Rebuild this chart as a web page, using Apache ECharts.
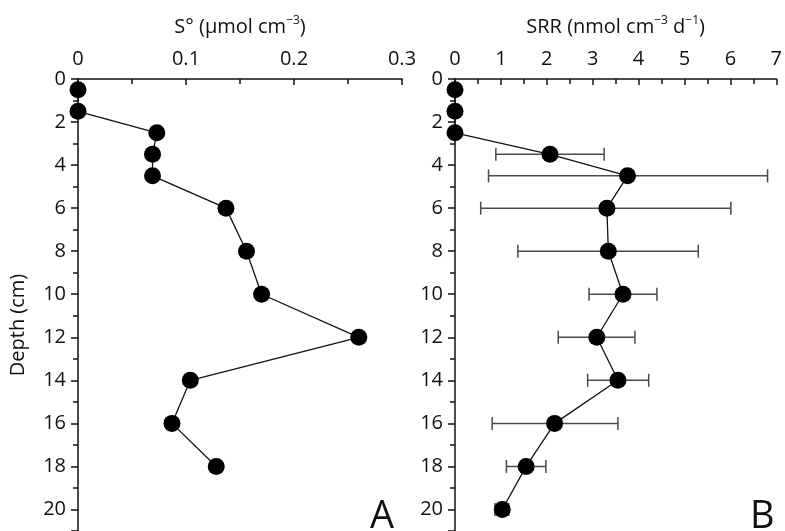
<!DOCTYPE html>
<html>
<head>
<meta charset="utf-8">
<script src="https://cdn.jsdelivr.net/npm/echarts@6/dist/echarts.min.js"></script>
<style>
html,body{margin:0;padding:0;background:#fff;}
#main{width:785px;height:531px;}
</style>
</head>
<body>
<div id="main"></div>
<script>
// panel A: elemental sulfur
var depthA = [0.5, 1.5, 2.5, 3.5, 4.5, 6, 8, 10, 12, 14, 16, 18];
var sulfur = [0, 0, 0.073, 0.069, 0.069, 0.137, 0.156, 0.170, 0.260, 0.104, 0.087, 0.128];

// panel B: sulfate reduction rate
var depthB = [0.5, 1.5, 2.5, 3.5, 4.5, 6, 8, 10, 12, 14, 16, 18, 20];
var srr = [0, 0, 0, 2.07, 3.76, 3.31, 3.34, 3.66, 3.09, 3.55, 2.17, 1.55, 1.03];
var srrLow = [0, 0, 0, 0.89, 0.73, 0.56, 1.37, 2.92, 2.25, 2.89, 0.81, 1.12, 0.87];
var srrHigh = [0, 0, 0, 3.25, 6.81, 6.01, 5.30, 4.40, 3.92, 4.22, 3.55, 1.98, 1.17];

var FONT = '"Open Sans", "Noto Sans", sans-serif';

function pairs(xs, ys){
	var out = [];
	for(var i=0;i<xs.length;i++){
		out.push([xs[i], ys[i]]);
	}
	return out;
}

var errData = [];
for(var i=0;i<depthB.length;i++){
	if(srrHigh[i] > srrLow[i]){
		errData.push([srrLow[i], srrHigh[i], depthB[i]]);
	}
}

function xAxisOf(idx, max, interval, name){
	return {
		type: 'value',
		gridIndex: idx,
		position: 'top',
		min: 0,
		max: max,
		interval: interval,
		name: name,
		nameLocation: 'middle',
		nameGap: 40,
		nameTextStyle: {
			color: '#111',
			rich: {
				a: {fontSize: 20, fontFamily: FONT, color: '#111'},
				s: {fontSize: 12, fontFamily: FONT, color: '#111', verticalAlign: 'top', padding: [0, 0, 12, 0]}
			}
		},
		axisLine: {show: true, onZero: false, lineStyle: {color: '#111', width: 1.5}},
		axisTick: {show: true, inside: true, length: 6, lineStyle: {color: '#111', width: 1.5}},
		minorTick: {show: true, splitNumber: 2, length: 5, lineStyle: {color: '#111', width: 1.5}},
		axisLabel: {color: '#111', fontSize: 20, fontFamily: FONT, margin: 10},
		splitLine: {show: false}
	};
}

function yAxisOf(idx, name){
	return {
		type: 'value',
		gridIndex: idx,
		inverse: true,
		min: 0,
		max: 21,
		interval: 2,
		name: name,
		nameLocation: 'middle',
		nameGap: 50,
		nameTextStyle: {color: '#111', fontSize: 20, fontFamily: FONT, padding: [0, 40, 0, 0]},
		axisLine: {show: true, onZero: false, lineStyle: {color: '#111', width: 1.5}},
		axisTick: {show: true, length: 7, lineStyle: {color: '#111', width: 1.5}},
		minorTick: {show: true, splitNumber: 2, length: 5, lineStyle: {color: '#111', width: 1.5}},
		axisLabel: {color: '#111', fontSize: 20, fontFamily: FONT, margin: 12, showMaxLabel: false},
		splitLine: {show: false}
	};
}

var myChart = echarts.init(document.getElementById('main'));

var option = {
	backgroundColor: '#fff',
	animation: false,
	grid: [
		{left: 78, top: 79, width: 324, height: 453},
		{left: 455, top: 79, width: 324, height: 453}
	],
	xAxis: [
		xAxisOf(0, 0.3, 0.1, '{a|S° (µmol cm}{s|−3}{a|)}'),
		xAxisOf(1, 7, 1, '{a|SRR (nmol cm}{s|−3}{a| d}{s|−1}{a|)}')
	],
	yAxis: [
		yAxisOf(0, 'Depth (cm)'),
		yAxisOf(1, '')
	],
	graphic: [
		{type: 'text', left: 370, top: 498, style: {text: 'A', font: '38px ' + FONT, fill: '#111'}},
		{type: 'text', left: 750, top: 498, style: {text: 'B', font: '38px ' + FONT, fill: '#111'}}
	],
	series: [
		{
			type: 'line',
			xAxisIndex: 0,
			yAxisIndex: 0,
			data: pairs(sulfur, depthA),
			symbol: 'circle',
			symbolSize: 17,
			itemStyle: {color: '#000'},
			lineStyle: {color: '#111', width: 1.3}
		},
		{
			type: 'custom',
			xAxisIndex: 1,
			yAxisIndex: 1,
			data: errData,
			z: 1,
			renderItem: function(params, api){
				var lo = api.coord([api.value(0), api.value(2)]);
				var hi = api.coord([api.value(1), api.value(2)]);
				var cap = 6.5;
				var st = {stroke: '#4a4a4a', lineWidth: 1.5};
				return {
					type: 'group',
					children: [
						{type: 'line', shape: {x1: lo[0], y1: lo[1], x2: hi[0], y2: hi[1]}, style: st},
						{type: 'line', shape: {x1: lo[0], y1: lo[1] - cap, x2: lo[0], y2: lo[1] + cap}, style: st},
						{type: 'line', shape: {x1: hi[0], y1: hi[1] - cap, x2: hi[0], y2: hi[1] + cap}, style: st}
					]
				};
			}
		},
		{
			type: 'line',
			xAxisIndex: 1,
			yAxisIndex: 1,
			data: pairs(srr, depthB),
			symbol: 'circle',
			symbolSize: 17,
			z: 3,
			itemStyle: {color: '#000'},
			lineStyle: {color: '#111', width: 1.3}
		}
	]
};

myChart.setOption(option);
</script>
</body>
</html>
